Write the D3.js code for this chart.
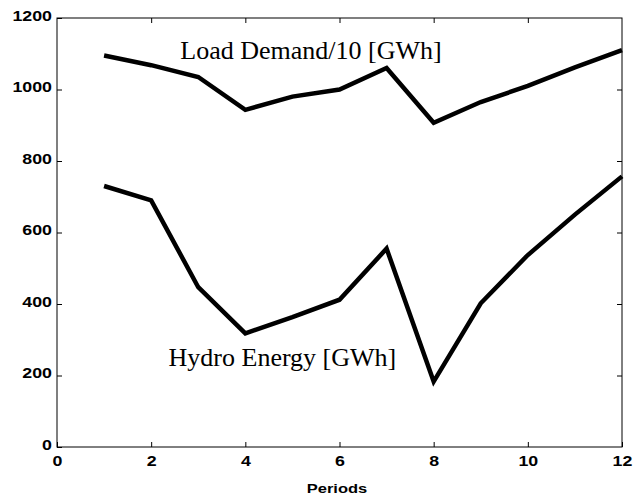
<!DOCTYPE html>
<html>
<head>
<meta charset="utf-8">
<script src="https://cdn.jsdelivr.net/npm/d3@7"></script>
<style>
  html, body { margin: 0; padding: 0; background: #fff; }
  svg { display: block; }
</style>
</head>
<body>
<svg id="chart" width="639" height="499"></svg>
<script>
// ---- data ----
const periods = [1, 2, 3, 4, 5, 6, 7, 8, 9, 10, 11, 12];
const loadDemand = [1095, 1068, 1035, 943, 980, 1000, 1060, 907, 965, 1010, 1062, 1110];
const hydroEnergy = [730, 690, 447, 318, 363, 412, 555, 183, 402, 537, 650, 757];
const xTicks = [0, 2, 4, 6, 8, 10, 12];
const yTicks = [0, 200, 400, 600, 800, 1000, 1200];
const xLabel = "Periods";
const loadLabel = "Load Demand/10 [GWh]";
const hydroLabel = "Hydro Energy [GWh]";
const loadLabelAt = [2.62, 1085];
const hydroLabelAt = [2.37, 227];

// ---- layout ----
const W = 639, H = 499;
const margin = { left: 57, right: 17, top: 18, bottom: 52 };
const iw = W - margin.left - margin.right;
const ih = H - margin.top - margin.bottom;
const SX = 1.27; // horizontal stretch of the sans labels

const svg = d3.select("#chart");
const g = svg.append("g").attr("transform", `translate(${margin.left},${margin.top})`);

const x = d3.scaleLinear().domain([0, 12]).range([0, iw]);
const y = d3.scaleLinear().domain([0, 1200]).range([ih, 0]);

const tickFont = "'Liberation Sans', Arial, Helvetica, sans-serif";

function styleAxis(sel, withLabels) {
  sel.select(".domain").remove();
  sel.selectAll(".tick line").attr("stroke", "#000").attr("stroke-width", 1);
  if (!withLabels) sel.selectAll(".tick text").remove();
  sel.selectAll(".tick text")
    .attr("fill", "#000")
    .attr("font-family", tickFont)
    .attr("font-weight", "bold")
    .attr("font-size", 14);
}

// bottom axis
const gx = g.append("g").attr("transform", `translate(0,${ih})`)
  .call(d3.axisBottom(x).tickValues(xTicks).tickFormat(d3.format("d")).tickSizeInner(-5).tickSizeOuter(0).tickPadding(9.5));
styleAxis(gx, true);
gx.selectAll(".tick text").each(function () {
  const t = d3.select(this);
  const yy = +t.attr("y");
  t.attr("y", null).attr("transform", `translate(0,${yy}) scale(${SX},1)`);
});

// top axis (ticks only)
const gxt = g.append("g")
  .call(d3.axisTop(x).tickValues(xTicks.slice(1, -1)).tickSizeInner(-5).tickSizeOuter(0));
styleAxis(gxt, false);

// left axis
const gy = g.append("g")
  .call(d3.axisLeft(y).tickValues(yTicks).tickFormat(d3.format("d")).tickSizeInner(-5).tickSizeOuter(0).tickPadding(5));
styleAxis(gy, true);
gy.selectAll(".tick text").each(function () {
  const t = d3.select(this);
  const xx = +t.attr("x");
  t.attr("x", null).attr("dy", "0.15em").attr("transform", `translate(${xx},0) scale(${SX},1)`);
});

// right axis (ticks only)
const gyr = g.append("g").attr("transform", `translate(${iw},0)`)
  .call(d3.axisRight(y).tickValues(yTicks.slice(1, -1)).tickSizeInner(-5).tickSizeOuter(0));
styleAxis(gyr, false);

// frame
g.append("rect")
  .attr("x", 0).attr("y", 0).attr("width", iw).attr("height", ih)
  .attr("fill", "none").attr("stroke", "#000").attr("stroke-width", 1);

// lines
const line = d3.line().x((d, i) => x(periods[i])).y(d => y(d));
[loadDemand, hydroEnergy].forEach(series => {
  g.append("path")
    .datum(series)
    .attr("d", line)
    .attr("fill", "none")
    .attr("stroke", "#000")
    .attr("stroke-width", 4.5)
    .attr("stroke-linejoin", "miter")
    .attr("stroke-linecap", "butt");
});

// annotations
const serif = "'Liberation Serif', 'Times New Roman', Times, serif";
g.append("text")
  .attr("x", x(loadLabelAt[0])).attr("y", y(loadLabelAt[1]))
  .attr("font-family", serif).attr("font-size", 26).attr("fill", "#000")
  .text(loadLabel);
g.append("text")
  .attr("x", x(hydroLabelAt[0])).attr("y", y(hydroLabelAt[1]))
  .attr("font-family", serif).attr("font-size", 26).attr("fill", "#000")
  .text(hydroLabel);

// x-axis title
svg.append("text")
  .attr("text-anchor", "middle")
  .attr("transform", `translate(337,493) scale(${SX},1)`)
  .attr("font-family", tickFont).attr("font-weight", "bold").attr("font-size", 13)
  .attr("fill", "#000")
  .text(xLabel);
</script>
</body>
</html>
